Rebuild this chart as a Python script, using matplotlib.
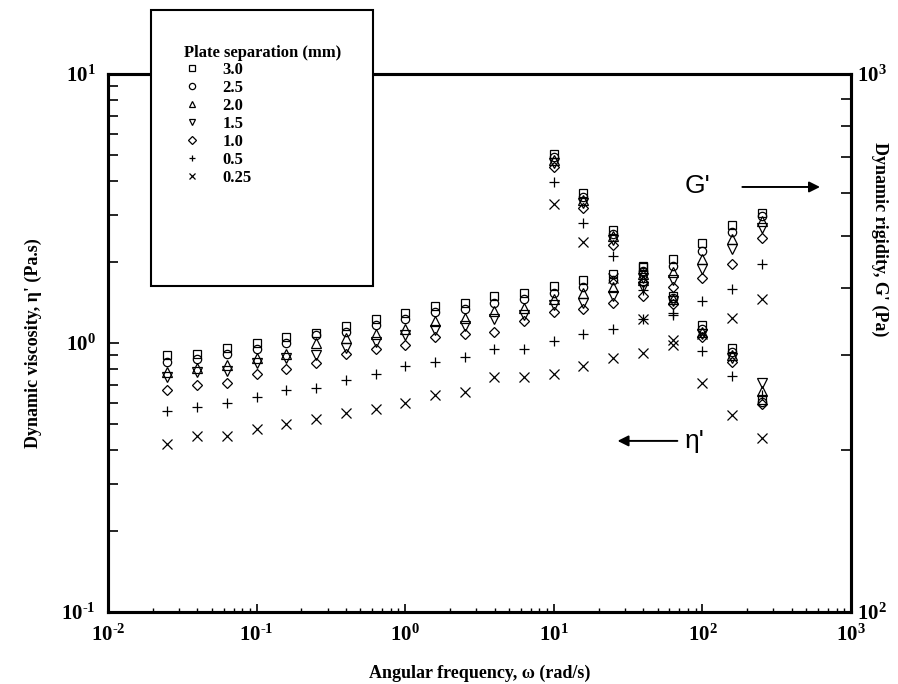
import numpy as np
import matplotlib
matplotlib.use("Agg")
import matplotlib.pyplot as plt
from matplotlib.lines import Line2D
from matplotlib.patches import Rectangle
from matplotlib.ticker import FixedLocator, FuncFormatter, NullFormatter

plt.rcParams['font.family'] = ['Liberation Serif', 'DejaVu Serif']
plt.rcParams['mathtext.fontset'] = 'custom'
plt.rcParams['mathtext.rm'] = 'Liberation Serif:bold'
plt.rcParams['mathtext.bf'] = 'Liberation Serif:bold'
plt.rcParams['mathtext.it'] = 'Liberation Serif:bold'

# angular frequency (rad/s)
freq = [0.0251, 0.0398, 0.0631, 0.1, 0.158, 0.251, 0.398, 0.631, 1.0, 1.58, 2.51,
        3.98, 6.31, 10, 15.8, 25.1, 39.8, 63.1, 100, 158, 251]

# dynamic viscosity eta' (Pa.s), one list per plate separation
eta_30 = [0.90, 0.91, 0.96, 1.00, 1.05, 1.09, 1.16, 1.23, 1.29, 1.37, 1.41,
          1.50, 1.54, 1.63, 1.71, 1.81, 1.91, 2.06, 2.36, 2.75, 3.05]
eta_25 = [0.85, 0.87, 0.91, 0.95, 1.00, 1.07, 1.10, 1.17, 1.23, 1.30, 1.34,
          1.41, 1.46, 1.54, 1.61, 1.72, 1.83, 1.94, 2.20, 2.59, 2.97]
eta_20 = [0.78, 0.81, 0.83, 0.88, 0.91, 1.00, 1.04, 1.08, 1.13, 1.21, 1.24,
          1.31, 1.35, 1.46, 1.53, 1.61, 1.72, 1.83, 2.06, 2.44, 2.85]
eta_15 = [0.75, 0.78, 0.79, 0.84, 0.88, 0.90, 0.96, 1.01, 1.07, 1.12, 1.16,
          1.23, 1.27, 1.38, 1.41, 1.50, 1.61, 1.71, 1.89, 2.24, 2.68]
eta_10 = [0.67, 0.70, 0.71, 0.77, 0.80, 0.84, 0.91, 0.95, 0.98, 1.05, 1.08,
          1.10, 1.21, 1.30, 1.34, 1.41, 1.49, 1.61, 1.75, 1.97, 2.46]
eta_05 = [0.56, 0.58, 0.60, 0.63, 0.67, 0.68, 0.73, 0.77, 0.82, 0.85, 0.89,
          0.95, 0.95, 1.02, 1.08, 1.13, 1.23, 1.27, 1.43, 1.59, 1.97]
eta_025 = [0.42, 0.45, 0.45, 0.48, 0.50, 0.52, 0.55, 0.57, 0.60, 0.64, 0.66,
           0.75, 0.75, 0.77, 0.82, 0.88, 0.92, 0.98, 1.08, 1.24, 1.46]

# dynamic rigidity G' (Pa), only visible from 10 rad/s on
freq_g = [10, 15.8, 25.1, 39.8, 63.1, 100, 158, 251]
g_30 = [711, 602, 514, 439, 387, 341, 309, 248]
g_25 = [701, 591, 505, 431, 384, 336, 304, 246]
g_20 = [692, 584, 499, 424, 381, 332, 300, 257]
g_15 = [684, 576, 492, 417, 378, 328, 296, 267]
g_10 = [672, 564, 482, 410, 374, 324, 292, 244]
g_05 = [630, 529, 458, 396, 359, 306, 275, 253]
g_025 = [574, 488, 417, 351, 320, 266, 232, 211]

labels = ['3.0', '2.5', '2.0', '1.5', '1.0', '0.5', '0.25']
markers = ['s', 'o', '^', 'v', 'D', '+', 'x']
msizes = [5.5, 6, 6.5, 6.5, 5, 7, 7]
eta_all = [eta_30, eta_25, eta_20, eta_15, eta_10, eta_05, eta_025]
g_all = [g_30, g_25, g_20, g_15, g_10, g_05, g_025]

fig = plt.figure(figsize=(8.98, 6.84), dpi=100)
ax = fig.add_axes([0.1203, 0.1053, 0.8274, 0.7865])
ax2 = ax.twinx()

for eta, g, m, ms in zip(eta_all, g_all, markers, msizes):
    ax.plot(freq, eta, linestyle='none', marker=m, ms=ms, mfc='none', mec='k', mew=0.9)
    ax2.plot(freq_g, g, linestyle='none', marker=m, ms=ms, mfc='none', mec='k', mew=0.9)

ax.set_xscale('log')
ax.set_yscale('log')
ax2.set_yscale('log')
ax.set_xlim(1e-2, 1e3)
ax.set_ylim(0.1, 10)
ax2.set_ylim(100, 1000)

def pow10(v, pos):
    e = int(round(np.log10(v)))
    if e < 0:
        return r'$10^{\text{-}%d}$' % (-e)
    return r'$10^{%d}$' % e

ax.xaxis.set_major_locator(FixedLocator([1e-2, 1e-1, 1e0, 1e1, 1e2, 1e3]))
ax.xaxis.set_major_formatter(FuncFormatter(pow10))
ax.xaxis.set_minor_locator(FixedLocator([k * 10.0 ** e for e in range(-2, 3) for k in range(2, 10)]))
ax.xaxis.set_minor_formatter(NullFormatter())
ax.yaxis.set_major_locator(FixedLocator([0.1, 1, 10]))
ax.yaxis.set_major_formatter(FuncFormatter(pow10))
ax.yaxis.set_minor_locator(FixedLocator([k * 10.0 ** e for e in (-1, 0) for k in range(2, 10)]))
ax.yaxis.set_minor_formatter(NullFormatter())
ax2.yaxis.set_major_locator(FixedLocator([100, 1000]))
ax2.yaxis.set_major_formatter(FuncFormatter(pow10))
ax2.yaxis.set_minor_locator(FixedLocator([k * 100.0 for k in range(2, 10)]))
ax2.yaxis.set_minor_formatter(NullFormatter())

ax.tick_params(axis='x', which='major', direction='in', length=6, width=1.2, top=False, pad=9, labelsize=15)
ax.tick_params(axis='x', which='minor', direction='in', length=3, width=1.0, top=False)
ax.tick_params(axis='y', which='major', direction='in', length=8, width=1.2, right=False, pad=9, labelsize=15)
ax.tick_params(axis='y', which='minor', direction='in', length=7, width=1.2, right=False)
ax2.tick_params(axis='y', which='major', direction='in', length=8, width=1.2, pad=4, labelsize=15)
ax2.tick_params(axis='y', which='minor', direction='in', length=7, width=1.2)

for a in (ax, ax2):
    for s in a.spines.values():
        s.set_linewidth(2.2)

ax.set_xlabel('Angular frequency, ω (rad/s)', fontsize=13, fontweight='bold', labelpad=14)
ax.set_ylabel("Dynamic viscosity, η' (Pa.s)", fontsize=13, fontweight='bold', labelpad=14)
fig.text(0.980, 0.650, "Dynamic rigidity, G' (Pa)", rotation=270, fontsize=13,
         fontweight='bold', ha='center', va='center')

# G' and eta' arrows
ax.annotate('', xy=(0.962, 0.790), xytext=(0.850, 0.790), xycoords='axes fraction',
            arrowprops=dict(arrowstyle='-|>', lw=1.4, color='k', mutation_scale=16))
ax.text(0.794, 0.792, "G'", transform=ax.transAxes, fontsize=19, family='Liberation Sans',
        ha='center', va='center')
ax.annotate('', xy=(0.682, 0.318), xytext=(0.770, 0.318), xycoords='axes fraction',
            arrowprops=dict(arrowstyle='-|>', lw=1.4, color='k', mutation_scale=16))
ax.text(0.790, 0.318, "η'", transform=ax.transAxes, fontsize=19, family='Liberation Sans',
        ha='center', va='center')

# legend box overlapping the top of the axes
fig.add_artist(Rectangle((0.168, 0.582), 0.247, 0.403, transform=fig.transFigure,
                         facecolor='white', edgecolor='k', lw=1.5, zorder=5))
fig.text(0.292, 0.922, 'Plate separation (mm)', fontsize=12, fontweight='bold',
         ha='center', va='center', zorder=6)
handles = [Line2D([], [], linestyle='none', marker=m, ms=4.5, mfc='none', mec='k', mew=0.9)
           for m in markers]
leg = fig.legend(handles, labels, loc='upper left', bbox_to_anchor=(0.205, 0.910),
                 frameon=False, prop={'weight': 'bold', 'size': 12}, handlelength=1.0,
                 handletextpad=1.3, labelspacing=0.12, borderpad=0, borderaxespad=0)
leg.set_zorder(7)

fig.savefig('out.png', dpi=100)
